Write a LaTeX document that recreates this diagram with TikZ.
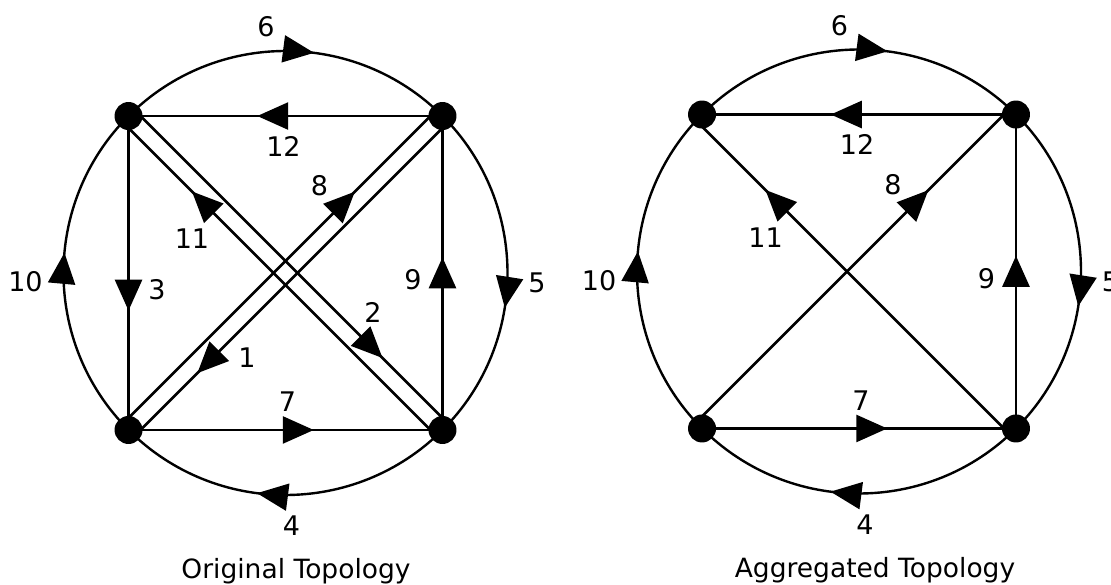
\documentclass[tikz,border=0pt]{standalone}
\usepackage{fontspec}
\setmainfont{DejaVu Sans}
\usetikzlibrary{arrows.meta,decorations.markings}
\pgfdeclarelayer{background}
\pgfsetlayers{background,main}
\tikzset{
  vertex/.style={circle, fill=black, inner sep=0pt, minimum size=28pt},
  edge/.style={line width=2.7pt},
  arcedge/.style={line width=2.4pt},
  lbl/.style={inner sep=0pt, font=\fontsize{27}{27}\selectfont},
  captiontext/.style={inner sep=0pt, anchor=base, font=\fontsize{26.5}{26.5}\selectfont},
  tipat/.style={postaction={decorate, decoration={markings,
      mark=at position #1 with {\arrow{Triangle[length=31pt,width=27pt]}}}}},
}
\begin{document}
\begin{tikzpicture}[x=1pt,y=1pt]
\begin{pgfonlayer}{background}
\fill[white] (0,0) rectangle (1111,-585);
\end{pgfonlayer}
\useasboundingbox (0,0) rectangle (1111,-585);

% ---------------- Original topology ----------------
\begin{scope}[shift={(285.5,-273)}]
  \node[vertex] (Ltl) at (135:222) {};
  \node[vertex] (Ltr) at (45:222) {};
  \node[vertex] (Lbl) at (225:222) {};
  \node[vertex] (Lbr) at (-45:222) {};
  \begin{pgfonlayer}{background}
    \draw[arcedge, tipat=0.582] (Ltl.center) arc[start angle=135, end angle=45, radius=222pt];
    \draw[arcedge, tipat=0.60] (Ltr.center) arc[start angle=45, end angle=-45, radius=222pt];
    \draw[arcedge, tipat=0.582] (Lbr.center) arc[start angle=-45, end angle=-135, radius=222pt];
    \draw[arcedge, tipat=0.558] (Lbl.center) arc[start angle=225, end angle=135, radius=222pt];
    \draw[edge, tipat=0.59] (Ltr.center) -- (Ltl.center);
    \draw[edge, tipat=0.59] (Lbl.center) -- (Lbr.center);
    \draw[edge, tipat=0.62] (Ltl.center) -- (Lbl.center);
    \draw[edge, tipat=0.55] (Lbr.center) -- (Ltr.center);
    \draw[edge, tipat=0.779] ([shift={(-6,-6)}]Lbr.center) -- ([shift={(-6,-6)}]Ltl.center);
    \draw[edge, tipat=0.79] ([shift={(6,6)}]Ltl.center) -- ([shift={(6,6)}]Lbr.center);
    \draw[edge, tipat=0.74] ([shift={(-6,6)}]Lbl.center) -- ([shift={(-6,6)}]Ltr.center);
    \draw[edge, tipat=0.80] ([shift={(6,-6)}]Ltr.center) -- ([shift={(6,-6)}]Lbl.center);
  \end{pgfonlayer}
  \node[lbl] (L6) at (-19.5,246) {6};
  \node[lbl] (L12) at (-2,127) {12};
  \node[lbl] (L8) at (34,87) {8};
  \node[lbl] (L11) at (-93.5,34) {11};
  \node[lbl] (L10) at (-260,-9) {10};
  \node[lbl] (L3) at (-128.5,-17) {3};
  \node[lbl] (L9) at (127.5,-7) {9};
  \node[lbl] (L5) at (251.5,-10) {5};
  \node[lbl] (L2) at (87.5,-39) {2};
  \node[lbl] (L1) at (-38.5,-85) {1};
  \node[lbl] (L7) at (2,-129) {7};
  \node[lbl] (L4) at (6,-253) {4};
\end{scope}

% ---------------- Aggregated topology ----------------
\begin{scope}[shift={(859,-271.5)}]
  \node[vertex] (Rtl) at (135:222) {};
  \node[vertex] (Rtr) at (45:222) {};
  \node[vertex] (Rbl) at (225:222) {};
  \node[vertex] (Rbr) at (-45:222) {};
  \begin{pgfonlayer}{background}
    \draw[arcedge, tipat=0.582] (Rtl.center) arc[start angle=135, end angle=45, radius=222pt];
    \draw[arcedge, tipat=0.60] (Rtr.center) arc[start angle=45, end angle=-45, radius=222pt];
    \draw[arcedge, tipat=0.582] (Rbr.center) arc[start angle=-45, end angle=-135, radius=222pt];
    \draw[arcedge, tipat=0.558] (Rbl.center) arc[start angle=225, end angle=135, radius=222pt];
    \draw[edge, tipat=0.59] (Rtr.center) -- (Rtl.center);
    \draw[edge, tipat=0.59] (Rbl.center) -- (Rbr.center);
    \draw[edge, tipat=0.55] (Rbr.center) -- (Rtr.center);
    \draw[edge, tipat=0.779] ([shift={(-6,-6)}]Rbr.center) -- ([shift={(-6,-6)}]Rtl.center);
    \draw[edge, tipat=0.74] ([shift={(-6,6)}]Rbl.center) -- ([shift={(-6,6)}]Rtr.center);
  \end{pgfonlayer}
  \node[lbl] (R6) at (-19.5,246) {6};
  \node[lbl] (R12) at (-2,127) {12};
  \node[lbl] (R8) at (34,87) {8};
  \node[lbl] (R11) at (-93.5,34) {11};
  \node[lbl] (R10) at (-260,-9) {10};
  \node[lbl] (R9) at (127.5,-7) {9};
  \node[lbl] (R5) at (251.5,-10) {5};
  \node[lbl] (R7) at (2,-129) {7};
  \node[lbl] (R4) at (6,-253) {4};
\end{scope}

\node[captiontext] (capL) at (296,-578) {Original Topology};
\node[captiontext] (capR) at (875,-577) {Aggregated Topology};
\end{tikzpicture}
\end{document}
